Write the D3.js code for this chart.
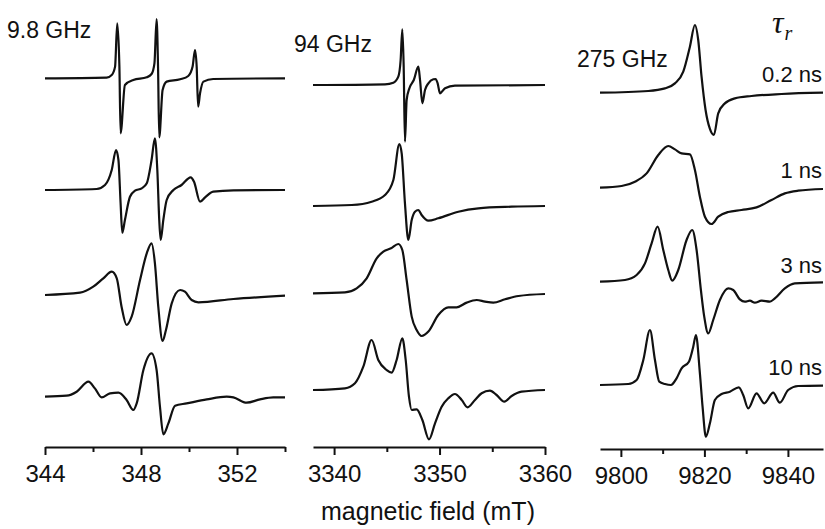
<!DOCTYPE html>
<html>
<head>
<meta charset="utf-8">
<script src="https://cdn.jsdelivr.net/npm/d3@7/dist/d3.min.js"></script>
<style>
  body { margin: 0; background: #fff; }
  text { font-family: "Liberation Sans", Arial, sans-serif; fill: #111; }
</style>
</head>
<body>
<div id="chart"></div>
<script>
// spectra: [field (mT), signal (a.u.)]
const tauLabels = ["0.2 ns", "1 ns", "3 ns", "10 ns"];
const freqLabels = ["9.8 GHz", "94 GHz", "275 GHz"];

const x98_major = [344, 348, 352];
const x98_minor = [346, 350, 354];
const x94_major = [3340, 3350, 3360];
const x94_minor = [3345, 3355];
const x275_major = [9800, 9820, 9840];
const x275_minor = [9810, 9830];

const s98_02 = [[344,0],[346.57,0.7],[346.78,3.3],[346.92,11.7],[347.01,55],[347.1,11.7],[347.15,-55],[347.33,-6.7],[347.68,-1.7],[348.24,1],[348.44,4.3],[348.56,15],[348.65,59.3],[348.71,11.7],[348.76,-59],[348.9,-11.7],[349.07,-3.3],[349.63,-1],[349.97,2.3],[350.15,11.7],[350.25,28.3],[350.32,11.7],[350.38,-28.3],[350.46,-15],[350.6,-3.3],[351.01,-0.7],[354,0]];
const s98_1 = [[344,0],[346.15,1],[346.5,5],[346.78,20],[346.96,40],[347.06,30],[347.15,-13.3],[347.22,-42.7],[347.33,-30],[347.54,-6.7],[347.75,-0.7],[348.03,1.7],[348.24,6.7],[348.44,30],[348.58,51.7],[348.68,20],[348.76,-30],[348.82,-50],[348.93,-30],[349.07,-10],[349.35,0],[349.69,5],[350.07,12.7],[350.21,8.3],[350.46,-11.7],[350.67,-7.3],[351.01,-1.7],[351.85,-0.3],[354,0]];
const s98_3 = [[344,0],[345.46,2.3],[346.01,8.3],[346.43,16.7],[346.78,23.3],[346.99,16.7],[347.19,-11.7],[347.4,-30],[347.61,-21.7],[347.96,15],[348.24,41.7],[348.44,51.7],[348.58,31.7],[348.72,-11.7],[348.9,-46],[349.04,-35],[349.28,-8.3],[349.63,5],[349.83,3.3],[350.11,-5],[350.39,-7.3],[351.85,-4],[354,-0.7]];
const s98_10 = [[344,0],[344.9,1],[345.32,5],[345.81,15],[346.08,8.3],[346.36,-0.7],[346.71,3.3],[347.06,4],[347.4,-3.3],[347.68,-13.3],[347.82,-6.7],[348.1,26.7],[348.44,43.3],[348.65,26.7],[348.79,-10],[348.93,-37.7],[349.14,-26.7],[349.42,-9],[349.9,-6.7],[350.74,-2.7],[351.57,0],[351.85,-0.7],[352.4,-6],[352.96,-2.7],[353.51,-0.7],[354,-0.7]];

const s94_02 = [[3338,0],[3344.83,0.7],[3345.62,2.3],[3346.09,8.3],[3346.31,25],[3346.47,55.7],[3346.6,18.3],[3346.72,-56.7],[3346.88,-15],[3347.15,-3],[3347.56,5],[3347.99,18.3],[3348.15,5],[3348.37,-18.3],[3348.62,-5],[3348.94,1.7],[3349.41,5.7],[3349.63,6],[3349.82,1.7],[3350.04,-8.3],[3350.52,-3.3],[3351.46,-0.7],[3360,0]];
const s94_1 = [[3338,0],[3341.67,1],[3343.56,4.3],[3344.83,11],[3345.62,26],[3346.19,62],[3346.41,52.7],[3346.72,2.7],[3347.04,-34],[3347.36,-14],[3347.67,-5.7],[3347.99,-4],[3348.3,-9],[3348.94,-14.7],[3349.88,-12.3],[3351.78,-5.7],[3353.68,-2.3],[3356.84,-0.7],[3360,0]];
const s94_3 = [[3338,0],[3341.03,1],[3342.14,5],[3343.09,15],[3344.04,35],[3344.67,41.7],[3345.4,45],[3346.09,49.3],[3346.47,43.3],[3346.88,13.3],[3347.36,-23.3],[3347.83,-36.7],[3348.3,-42.7],[3348.94,-38.3],[3349.88,-21.7],[3350.83,-14],[3351.62,-14],[3352.57,-9.3],[3353.52,-6.7],[3354.31,-8.3],[3355.1,-9.3],[3356.21,-6],[3357.48,-2.7],[3360,-0.7]];
const s94_10 = [[3338,0],[3341.03,1.7],[3341.98,6.7],[3342.77,23.3],[3343.56,50],[3344.19,30],[3344.98,20],[3345.46,17.3],[3345.93,30],[3346.47,51.7],[3346.79,30],[3347.1,-6.7],[3347.36,-20],[3347.83,-19.3],[3348.37,-30],[3349,-49.3],[3349.57,-33.3],[3350.2,-16.7],[3350.83,-8.3],[3351.46,-4],[3352.1,-10],[3352.66,-17.3],[3353.36,-10],[3353.99,-3.3],[3354.78,-0.7],[3355.41,-5],[3356.14,-11.7],[3356.84,-6],[3357.78,-1.7],[3360,0]];

const s275_02 = [[9795,0],[9806.56,1.7],[9810.55,4.3],[9812.94,9.3],[9814.94,21],[9816.53,46],[9817.73,67.7],[9818.52,52.7],[9819.32,16],[9820.28,-17.3],[9821.3,-36],[9822.27,-42.3],[9823.31,-20.7],[9824.9,-10.7],[9827.3,-5.7],[9831.28,-3.3],[9838.46,-1.3],[9848.4,0]];
const s275_1 = [[9795,0],[9800.18,1.7],[9803.37,6],[9806.16,14.3],[9808.96,32.7],[9811.35,41.7],[9812.94,38.3],[9814.54,34.3],[9816.53,33.3],[9817.73,17.7],[9818.92,-9],[9820.12,-29],[9821.71,-36.3],[9823.31,-29],[9825.7,-24.3],[9828.89,-22.3],[9832.48,-19.7],[9836.07,-12.3],[9839.26,-5.7],[9842.45,-3],[9848.4,-1.3]];
const s275_3 = [[9795,0],[9800.98,1.7],[9803.77,6.7],[9805.77,18.3],[9807.36,38.3],[9808.8,55],[9810.15,31.7],[9811.35,11.7],[9812.3,1],[9813.74,11.7],[9815.73,41.7],[9817.09,51.7],[9818.13,31.7],[9819.16,-8.3],[9819.96,-35],[9820.92,-51.7],[9822.11,-38.3],[9823.71,-18.3],[9825.7,-6.7],[9826.9,-8.3],[9828.49,-17.7],[9829.69,-20],[9830.89,-19],[9832.08,-21],[9833.68,-19],[9835.67,-20],[9836.87,-16.7],[9839.26,-6.7],[9841.65,-1.7],[9848.4,-0.7]];
const s275_10 = [[9795,0],[9801.78,1],[9803.77,5],[9805.37,25],[9806.96,55],[9808.16,25],[9809.19,3.3],[9810.55,1],[9811.99,0],[9813.34,6.7],[9814.54,16.7],[9816.29,23.3],[9817.33,38.3],[9817.97,50],[9818.92,11.7],[9819.56,-21.7],[9820.36,-51.7],[9821.32,-38.3],[9822.51,-15],[9824.11,-9],[9826.1,-6.7],[9828.25,-2.3],[9829.29,-10],[9830.49,-23.3],[9832.48,-8.3],[9834.31,-18.3],[9836.47,-7.7],[9838.06,-17.7],[9840.06,-5],[9842.45,-1],[9848.4,-0.7]];

const W = 825, H = 529;
const svg = d3.select("#chart").append("svg")
    .attr("width", W).attr("height", H);

const panels = [
  { label: freqLabels[0], domain: [344, 354], range: [45, 285], axisY: 447,
    major: x98_major, minor: x98_minor, series: [s98_02, s98_1, s98_3, s98_10],
    base: [78.3, 190, 295, 396.7], lx: 7, ly: 38 },
  { label: freqLabels[1], domain: [3338, 3360], range: [313, 545], axisY: 447,
    major: x94_major, minor: x94_minor, series: [s94_02, s94_1, s94_3, s94_10],
    base: [85, 206, 293.3, 390], lx: 294, ly: 52 },
  { label: freqLabels[2], domain: [9795, 9848.4], range: [600, 823], axisY: 449,
    major: x275_major, minor: x275_minor, series: [s275_02, s275_1, s275_3, s275_10],
    base: [92.7, 187.7, 281.7, 385], lx: 577, ly: 67 }
];

panels.forEach(p => {
    const x = d3.scaleLinear().domain(p.domain).range(p.range);
    const g = svg.append("g");

    p.series.forEach((s, i) => {
        const y = d3.scaleLinear().domain([0, 100]).range([p.base[i], p.base[i] - 100]);
        const line = d3.line()
            .x(d => x(d[0]))
            .y(d => y(d[1]))
            .curve(d3.curveMonotoneX);
        g.append("path")
            .datum(s)
            .attr("d", line)
            .attr("fill", "none")
            .attr("stroke", "#111")
            .attr("stroke-width", 2.2)
            .attr("stroke-linejoin", "round");
    });

    // minor ticks
    g.append("g")
        .attr("transform", `translate(0,${p.axisY})`)
        .call(d3.axisBottom(x).tickValues(p.minor).tickSize(5).tickSizeOuter(0).tickFormat(""))
        .call(a => a.select(".domain").remove())
        .selectAll("line").attr("stroke", "#111").attr("stroke-width", 2);

    const ax = g.append("g")
        .attr("transform", `translate(0,${p.axisY})`)
        .call(d3.axisBottom(x).tickValues(p.major).tickSize(8).tickSizeOuter(0).tickPadding(10).tickFormat(d3.format("d")));
    ax.select(".domain").attr("stroke", "#111").attr("stroke-width", 2);
    ax.selectAll("line").attr("stroke", "#111").attr("stroke-width", 2);
    ax.selectAll("text")
        .attr("font-size", 24)
        .attr("font-family", "Liberation Sans, Arial, sans-serif")
        .attr("fill", "#111");

    g.append("text")
        .attr("x", p.lx).attr("y", p.ly)
        .attr("font-size", 23)
        .text(p.label);
});

// tau labels on the right
const tauY = [81.7, 178.3, 272.7, 375];
svg.selectAll(".tau")
    .data(tauLabels)
    .enter()
    .append("text")
    .attr("class", "tau")
    .attr("x", 822)
    .attr("y", (d, i) => tauY[i])
    .attr("text-anchor", "end")
    .attr("font-size", 22)
    .text(d => d);

const tau = svg.append("text")
    .attr("x", 772).attr("y", 33)
    .style("font-family", "Liberation Serif, Times New Roman, serif")
    .style("font-style", "italic")
    .attr("font-size", 32);
tau.append("tspan").text("τ");
tau.append("tspan").attr("font-size", 20).attr("dy", 7).attr("dx", 1).text("r");

svg.append("text")
    .attr("x", 428).attr("y", 520)
    .attr("text-anchor", "middle")
    .attr("font-size", 25)
    .text("magnetic field (mT)");
</script>
</body>
</html>
